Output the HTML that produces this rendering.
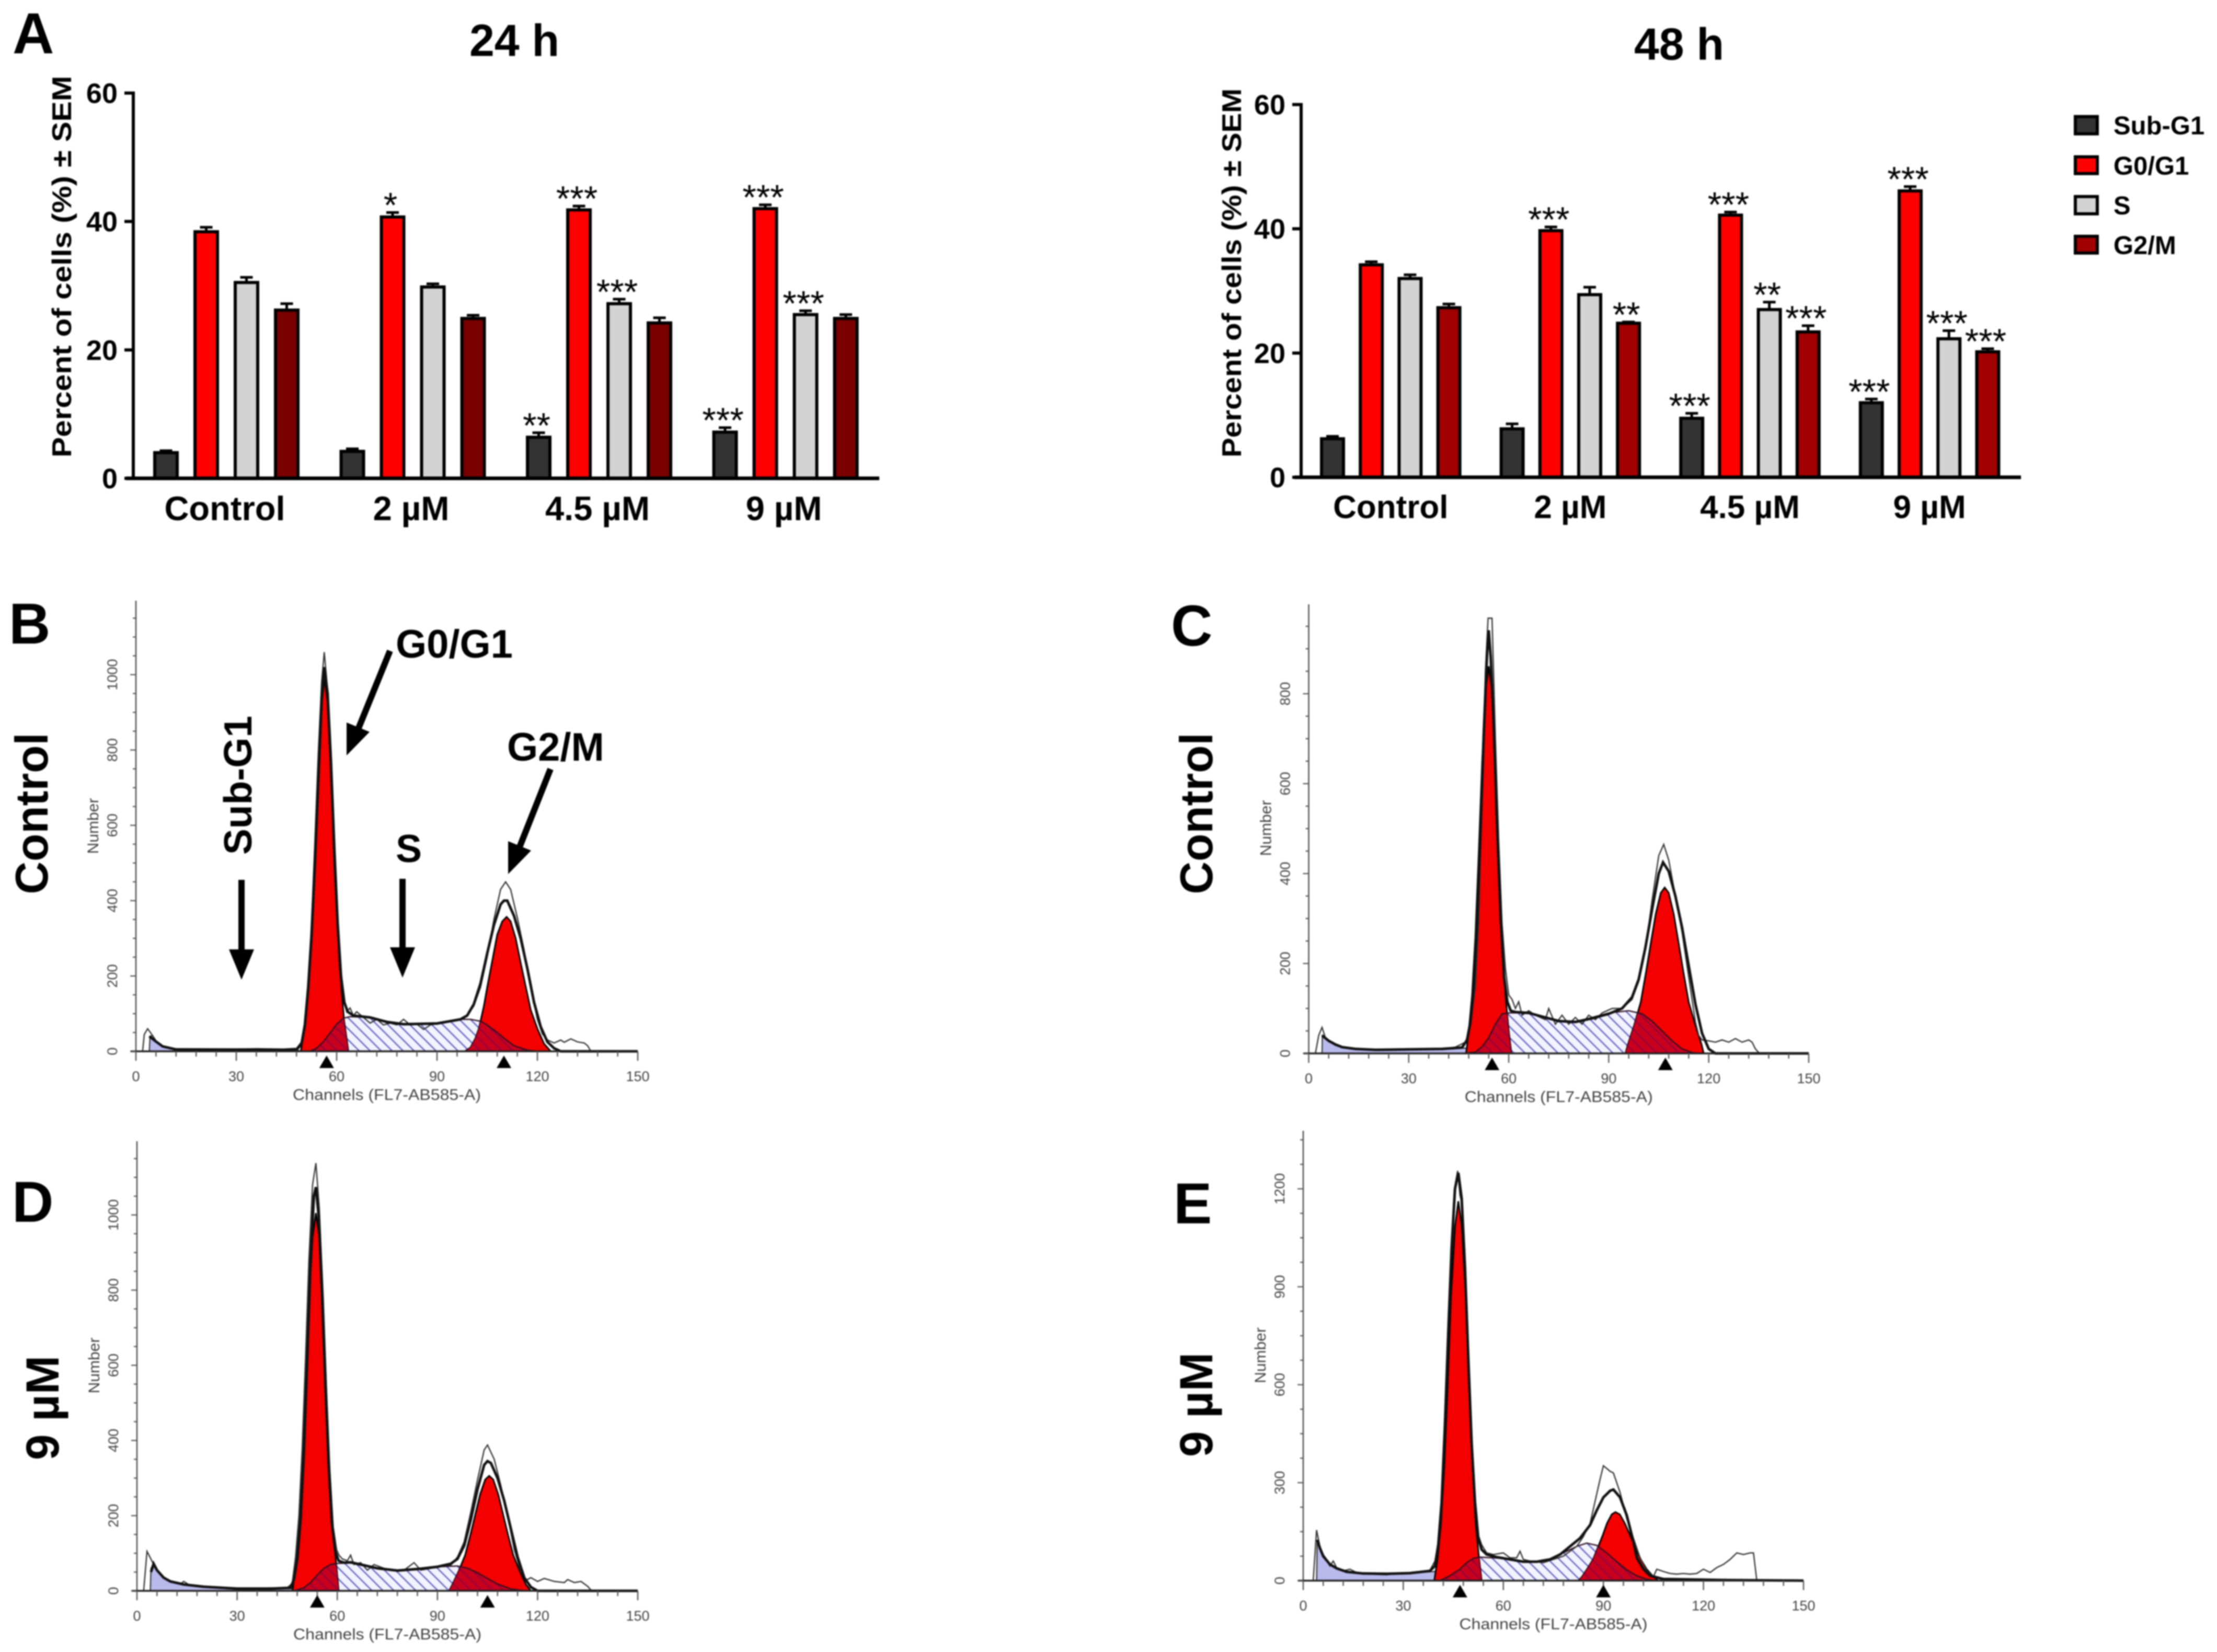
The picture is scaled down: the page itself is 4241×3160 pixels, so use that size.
<!DOCTYPE html>
<html lang="en">
<head>
<meta charset="utf-8">
<title>Cell cycle distribution figure</title>
<style>
html,body{margin:0;padding:0;background:#fff;width:4241px;height:3160px;overflow:hidden}
svg{display:block;filter:blur(1.2px)}
text{font-family:"Liberation Sans",sans-serif}
.b{font-weight:700;fill:#000}
</style>
</head>
<body>
<svg id="fig" xmlns="http://www.w3.org/2000/svg" width="4241" height="3160" viewBox="0 0 4241 3160">
<defs>
<pattern id="hatch" width="21" height="21" patternUnits="userSpaceOnUse">
<path d="M-4,-4L25,25M-4,17L4,25M17,-4L25,4" stroke="#6a6ac4" stroke-width="2.6" fill="none"/>
</pattern>
<pattern id="hatchRed" width="21" height="21" patternUnits="userSpaceOnUse">
<path d="M-4,-4L25,25M-4,17L4,25M17,-4L25,4" stroke="#98003c" stroke-width="2.6" fill="none"/>
</pattern>
</defs>
<rect width="4241" height="3160" fill="#fff"/>

<text class="b" x="24" y="102" font-size="110">A</text>
<text class="b" x="17" y="1231" font-size="110">B</text>
<text class="b" x="2240" y="1235" font-size="110">C</text>
<text class="b" x="23" y="2337" font-size="110">D</text>
<text class="b" x="2245" y="2340" font-size="110">E</text>

<text class="b" x="984" y="107" font-size="86" text-anchor="middle">24 h</text>
<text class="b" x="3212" y="114" font-size="86" text-anchor="middle">48 h</text>

<text class="b" transform="translate(136,510) rotate(-90)" font-size="52" text-anchor="middle" textLength="730" lengthAdjust="spacingAndGlyphs">Percent of cells (%) ± SEM</text>
<text class="b" transform="translate(2374,522) rotate(-90)" font-size="52" text-anchor="middle" textLength="706" lengthAdjust="spacingAndGlyphs">Percent of cells (%) ± SEM</text>

<g>
<rect x="3970" y="223" width="42" height="33" fill="#333" stroke="#000" stroke-width="6"/>
<text class="b" x="4043" y="257" font-size="49">Sub-G1</text>
<rect x="3970" y="300" width="42" height="32" fill="#f00" stroke="#000" stroke-width="6"/>
<text class="b" x="4043" y="334" font-size="49">G0/G1</text>
<rect x="3970" y="376" width="42" height="33" fill="#d3d3d3" stroke="#000" stroke-width="6"/>
<text class="b" x="4043" y="410" font-size="49">S</text>
<rect x="3970" y="452" width="42" height="32" fill="#a00000" stroke="#000" stroke-width="6"/>
<text class="b" x="4043" y="486" font-size="49">G2/M</text>
</g>

<g id="bars24"></g>
<g id="bars48"></g>
<g id="histB"></g>
<g id="histC"></g>
<g id="histD"></g>
<g id="histE"></g>

<text class="b" transform="translate(91,1556) rotate(-90)" font-size="88" text-anchor="middle" textLength="309" lengthAdjust="spacingAndGlyphs">Control</text>
<text class="b" transform="translate(2319,1556) rotate(-90)" font-size="88" text-anchor="middle" textLength="309" lengthAdjust="spacingAndGlyphs">Control</text>
<text class="b" transform="translate(112,2693) rotate(-90)" font-size="89" text-anchor="middle" textLength="200" lengthAdjust="spacingAndGlyphs">9 µM</text>
<text class="b" transform="translate(2319,2687) rotate(-90)" font-size="89" text-anchor="middle" textLength="200" lengthAdjust="spacingAndGlyphs">9 µM</text>

<g>
<text class="b" transform="translate(481,1502) rotate(-90)" font-size="75" text-anchor="middle" textLength="266" lengthAdjust="spacingAndGlyphs">Sub-G1</text>
<text class="b" x="757" y="1258" font-size="76">G0/G1</text>
<text class="b" x="970" y="1455" font-size="76">G2/M</text>
<text class="b" x="757" y="1649" font-size="75">S</text>
<g><line x1="462" y1="1683" x2="462" y2="1830" stroke="#000" stroke-width="12"/><polygon points="438,1816 486,1816 462,1874" fill="#000"/></g>
<g><line x1="770" y1="1681" x2="770" y2="1825" stroke="#000" stroke-width="12"/><polygon points="746,1812 794,1812 770,1870" fill="#000"/></g>
<g><line x1="746" y1="1245" x2="685" y2="1395" stroke="#000" stroke-width="12"/><polygon points="707,1400 663,1382 663,1445" fill="#000"/></g>
<g><line x1="1053" y1="1471" x2="994" y2="1620" stroke="#000" stroke-width="12"/><polygon points="1016,1627 972,1609 972,1672" fill="#000"/></g>
</g>
</svg>

<script>
// ---------- Bar chart data ----------
const categories = ['Control', '2 µM', '4.5 µM', '9 µM'];
const yTicks = [0, 20, 40, 60];

const h24SubG1 = [4.0, 4.2, 6.4, 7.2];
const h24G0G1 = [38.4, 40.7, 41.8, 42.0];
const h24S = [30.5, 29.8, 27.2, 25.5];
const h24G2M = [26.2, 24.9, 24.2, 24.9];
const h24ErrSubG1 = [0.3, 0.4, 0.7, 0.7];
const h24ErrG0G1 = [0.7, 0.7, 0.6, 0.6];
const h24ErrS = [0.8, 0.5, 0.7, 0.6];
const h24ErrG2M = [1.0, 0.5, 0.8, 0.6];
const h24StarsSubG1 = ['', '', '**', '***'];
const h24StarsG0G1 = ['', '*', '***', '***'];
const h24StarsS = ['', '', '***', '***'];
const h24StarsG2M = ['', '', '', ''];

const h48SubG1 = [6.2, 7.8, 9.5, 12.0];
const h48G0G1 = [34.2, 39.7, 42.2, 46.1];
const h48S = [32.0, 29.4, 27.0, 22.3];
const h48G2M = [27.3, 24.8, 23.4, 20.2];
const h48ErrSubG1 = [0.4, 0.8, 0.8, 0.6];
const h48ErrG0G1 = [0.5, 0.6, 0.5, 0.7];
const h48ErrS = [0.6, 1.2, 1.2, 1.3];
const h48ErrG2M = [0.6, 0.2, 1.0, 0.5];
const h48StarsSubG1 = ['', '', '***', '***'];
const h48StarsG0G1 = ['', '***', '***', '***'];
const h48StarsS = ['', '', '**', '***'];
const h48StarsG2M = ['', '**', '***', '***'];

// ---------- Histogram data: [channel, count] ----------
const bSub = [[4,0],[4.2,40],[5,42],[6,28],[8,14],[10,8],[14,5],[30,4],[48,3],[50,0]];
const bG1 = [[49.3,0],[50.6,83],[52,223],[52.9,362],[53.5,495],[54.6,750],[55.6,930],[56.4,990],[57.2,930],[58.2,750],[59.3,495],[60,362],[60.9,223],[62.2,83],[63.5,0]];
const bG2 = [[98.3,0],[100,10],[101.5,35],[102.5,60],[104,120],[105,170],[106.5,240],[108,310],[109.5,345],[110.8,357],[112,345],[113.5,300],[115,235],[116.4,176],[118,110],[120,60],[122,20],[124,0]];
const bS = [[52,0],[54,8],[56,25],[58,48],[60,72],[62,88],[64,92],[70,90],[75,80],[80,73],[90,75],[97,85],[100,85],[103,80],[105,70],[108,50],[110,35],[113,15],[117,3],[120,0]];
const bFit = [[4,40],[6,26],[8,13],[12,5],[48,4],[49.5,20],[50.5,70],[51.5,170],[52.5,310],[53.5,500],[54.5,720],[55.5,930],[56.3,1020],[57.3,950],[58.3,770],[59.3,540],[60.3,340],[61.3,200],[62.3,130],[63.3,105],[65,95],[70,90],[75,78],[80,72],[90,74],[97,85],[99,95],[101,125],[103,180],[105,260],[107,335],[109,390],[110,400],[111,400],[113,360],[115,300],[117,220],[119,130],[121,65],[123,25],[125,8],[127,0],[150,0]];
const bRaw = [[2,0],[2.5,45],[3.5,60],[4.5,48],[6,28],[8,12],[10,8],[14,5],[24,5],[30,6],[36,7],[44,6],[48,8],[49.5,25],[50.5,80],[51.5,180],[52.5,340],[53.5,560],[54.5,790],[55.5,980],[56.3,1060],[57.3,960],[58.3,760],[59.3,520],[60.3,320],[61.3,180],[62.3,130],[63,105],[64,115],[65,95],[66,105],[68,90],[70,75],[72,85],[74,70],[76,75],[78,70],[80,85],[82,70],[84,72],[86,58],[88,70],[91,75],[94,80],[97,85],[99,95],[101,120],[103,170],[105,250],[107,350],[109,430],[110.5,450],[112,430],[114,355],[116,270],[118,170],[120,85],[121.5,46],[123,30],[125,22],[127,30],[128,24],[130,33],[132,25],[134,22],[135,15],[136,0]];
const bMarkers = [57, 110];

const cSub = [[4,0],[4.1,40],[6,28],[8,20],[10,14],[14,10],[20,8],[30,9],[40,10],[46,12],[60,7],[100,5],[120,0]];
const cG1 = [[47.2,0],[48,50],[49,130],[50,260],[51,445],[52,645],[53,805],[54,861],[55,805],[56,645],[57,445],[58,260],[59,130],[60,50],[60.8,0]];
const cG2 = [[95,0],[95.8,21],[97.6,62],[99.6,114],[101.2,181],[102.6,244],[104.1,310],[105.6,357],[106.8,369],[108,357],[109.5,310],[111,244],[112.4,181],[114,114],[116,62],[117.8,21],[118.5,0]];
const cS = [[46,0],[50,3],[52,15],[54,35],[56,65],[58,88],[60,90],[66,90],[70,80],[75,72],[80,70],[85,80],[90,90],[96,95],[100,88],[103,72],[106,50],[109,28],[112,10],[115,2],[117,0]];
const cFit = [[4,40],[6,28],[8,20],[10,14],[14,10],[20,8],[30,9],[40,10],[46,13],[47.5,30],[48.5,70],[49.5,150],[50.5,290],[51.5,490],[52.5,710],[53.5,890],[54,941],[54.6,880],[55.6,710],[56.6,490],[57.6,300],[58.6,170],[59.6,115],[60.6,95],[62,92],[66,90],[70,82],[75,72],[80,70],[85,78],[90,88],[94,100],[97,125],[99,165],[101,235],[103,320],[105,400],[106.3,425],[108,405],[110,350],[112,280],[114,195],[116,110],[118,45],[120,10],[122,0],[150,0]];
const cRaw = [[2,0],[3,40],[4,58],[5,35],[6,28],[8,18],[12,11],[20,8],[30,8],[40,10],[44,14],[47,25],[48.5,60],[50,150],[51,300],[52,600],[53,850],[53.8,968],[55,968],[56,700],[57,470],[58,290],[59,190],[60,130],[61,120],[62,100],[63,115],[64,85],[66,95],[68,85],[71,75],[72,100],[74,65],[76,85],[78,65],[80,80],[82,65],[84,85],[86,75],[88,90],[91,100],[94,100],[97,120],[99,160],[101,230],[103,340],[105,440],[106.5,465],[108,430],[110,350],[112,270],[114,170],[115,120],[116,70],[117,40],[118,30],[120,28],[122,25],[124,30],[126,25],[128,33],[130,25],[132,30],[133,25],[134,10],[135,2],[136,0]];
const cMarkers = [55, 107];

const dSub = [[4,0],[4.2,60],[5,72],[6,58],[8,35],[10,25],[14,17],[20,11],[30,6],[40,5],[46,6],[60,3],[100,2],[118,0]];
const dG1 = [[46.6,0],[47.4,60],[48.4,150],[49.4,300],[50.4,515],[51.4,755],[52.6,940],[53.6,1005],[54.6,940],[55.8,755],[56.8,515],[57.8,300],[58.8,150],[59.8,60],[60.4,0]];
const dG2 = [[93.5,0],[94.5,17],[96.3,51],[98.3,95],[99.9,150],[101.3,202],[102.8,257],[104.3,296],[105.5,306],[106.7,296],[108.2,257],[109.7,202],[111.1,150],[112.7,95],[114.7,51],[116.5,17],[118,0]];
const dS = [[47,0],[50,8],[52,22],[54,42],[56,60],[58,70],[60,73],[64,74],[68,66],[72,60],[78,54],[84,58],[90,64],[96,66],[99,60],[102,48],[105,33],[108,18],[112,5],[116,0]];
const dFit = [[4.2,50],[5,72],[6,55],[8,35],[10,25],[14,17],[20,11],[30,6],[40,6],[46,8],[47,30],[48,85],[49,190],[50,370],[51,620],[52,880],[53,1050],[53.6,1074],[54.4,1000],[55.4,800],[56.4,560],[57.4,340],[58.4,180],[59.4,105],[60.4,80],[62,75],[64,76],[68,68],[72,60],[78,54],[84,58],[90,64],[94,72],[96,85],[98,120],[100,190],[102,270],[104,335],[105,345],[106,340],[108,300],[110,240],[112,165],[114,90],[116,35],[118,10],[120,0],[150,0]];
const dRaw = [[2,0],[3,105],[4,88],[5,70],[6,55],[8,35],[10,25],[13,18],[14,25],[16,14],[20,12],[25,8],[30,6],[36,7],[42,8],[45,8],[46.5,20],[47.5,90],[48.5,200],[49.5,380],[50.5,620],[51.5,880],[52.6,1080],[53.6,1138],[54.6,1020],[55.8,780],[56.8,530],[57.8,320],[58.8,170],[59.8,110],[60.5,95],[61.5,85],[63,80],[64,95],[65,70],[67,75],[69,55],[71,70],[74,60],[77,55],[80,55],[83,75],[85,55],[88,60],[91,65],[94,68],[96,90],[98,130],[100,210],[102,295],[104,375],[105,388],[107,350],[109,280],[111,200],[113,110],[115,50],[116.5,28],[118,35],[120,25],[122,33],[125,25],[128,22],[129,30],[131,22],[133,25],[135,12],[136,2],[137,0]];
const dMarkers = [54, 105];

const eSub = [[4,0],[4.2,125],[5,100],[6,75],[8,50],[10,38],[13,27],[18,22],[25,21],[32,23],[38,27],[42,30],[46,32],[50,22],[56,10],[70,5],[100,2],[105,0]];
const eG1 = [[39.3,0],[40.3,70],[41.3,175],[42.3,350],[43.3,600],[44.3,870],[45.5,1085],[46.5,1162],[47.5,1085],[48.7,870],[49.7,600],[50.7,350],[51.7,175],[52.7,70],[53.5,0]];
const eG2 = [[82.5,0],[83.6,12],[85.1,35],[86.9,65],[88.4,103],[89.8,139],[91.1,176],[92.5,203],[93.6,210],[94.9,203],[96.4,176],[98,139],[99.5,103],[101.2,65],[103,35],[105,12],[106.5,0]];
const eS = [[41,0],[44,15],[47,35],[49,55],[51,68],[53,72],[60,68],[65,60],[70,58],[74,65],[78,85],[82,105],[85,115],[88,108],[91,85],[94,58],[97,33],[100,15],[103,4],[106,0]];
const eFit = [[4.2,125],[5,100],[6,75],[8,50],[10,38],[13,27],[18,22],[25,21],[32,23],[38,30],[39.5,45],[40.5,110],[41.5,240],[42.5,480],[43.5,760],[44.5,1020],[45.5,1200],[46.5,1249],[47.5,1170],[48.5,960],[49.5,680],[50.5,420],[51.5,240],[52.5,130],[53.5,95],[55,80],[58,72],[62,65],[66,58],[70,58],[74,65],[77,80],[80,105],[83,130],[86,170],[88,215],[90,255],[92,275],[93,279],[95,255],[97,200],[99,120],[100,70],[102,35],[104,15],[108,5],[125,2],[150,0]];
const eRaw = [[3,0],[4,155],[5,105],[6,80],[7,65],[8,45],[9,60],[10,40],[12,30],[14,35],[16,25],[20,20],[25,18],[28,22],[32,22],[36,28],[38,32],[39.5,60],[40.5,120],[41.5,260],[42.5,500],[43.5,780],[44.5,1040],[45.5,1210],[46.3,1255],[47,1180],[47.7,1150],[48.5,950],[49.5,700],[50.5,420],[51.5,230],[52.5,140],[53.5,110],[55,85],[57,80],[60,85],[62,70],[64,70],[65,90],[66,65],[68,60],[72,55],[75,65],[78,75],[80,90],[82,105],[84,135],[86,175],[87,220],[88,265],[89,310],[90,352],[92,335],[93,330],[95,270],[97,190],[99,130],[101,70],[103,30],[105,12],[106,35],[108,28],[110,22],[112,20],[114,22],[116,20],[118,22],[120,35],[122,25],[124,40],[126,50],[128,65],[130,85],[132,80],[134,85],[135,85],[136,0]];
const eMarkers = [47, 90];

const channelTicks = [0, 30, 60, 90, 120, 150];
const countTicks1000 = [0, 200, 400, 600, 800, 1000];
const countTicks800 = [0, 200, 400, 600, 800];
const countTicks1200 = [0, 300, 600, 900, 1200];

const NS = 'http://www.w3.org/2000/svg';
function mk(tag, attrs, parent, txt) {
  const node = document.createElementNS(NS, tag);
  for (const k in attrs) node.setAttribute(k, attrs[k]);
  if (txt !== undefined) node.textContent = txt;
  parent.appendChild(node);
  return node;
}

function drawBars(cfg) {
  const root = document.getElementById(cfg.id);
  const yS = v => cfg.y0 - v * (cfg.y0 - cfg.y60) / 60;
  const barX = (g, s) => cfg.left + g * cfg.group + s * cfg.pitch;

  cfg.series.forEach((ser, s) => {
    ser.values.forEach((v, g) => {
      const x = barX(g, s), top = yS(v), eTop = yS(v + ser.err[g]);
      const cx = x + cfg.bw / 2;
      const err = mk('path', {d: 'M' + cx + ',' + top + 'V' + eTop + 'M' + (cx - 12) + ',' + eTop + 'H' + (cx + 12), stroke: '#000', 'stroke-width': 5, fill: 'none'}, root);
      
      
      const bar = mk('rect', {x: x + 3, y: top, width: cfg.bw - 6, height: cfg.y0 - top, fill: ser.color, stroke: '#000', 'stroke-width': 6}, root);
      
      
      if (ser.stars[g]) {
        const st = mk('text', {x: cx - 4, y: eTop + 9, 'font-size': 68, 'text-anchor': 'middle', fill: '#000'}, root, ser.stars[g]);
        
        
      }
    });
  });

  const yAxis = mk('line', {x1: cfg.axisX, x2: cfg.axisX, y1: yS(60) - 3, y2: cfg.y0, stroke: '#000', 'stroke-width': 6}, root);
  
  
  const xAxis = mk('line', {x1: cfg.x1, x2: cfg.x2, y1: cfg.y0, y2: cfg.y0, stroke: '#000', 'stroke-width': 7}, root);
  
  

  yTicks.forEach(t => {
    const tick = mk('line', {x1: cfg.axisX - 17, x2: cfg.axisX, y1: yS(t), y2: yS(t), stroke: '#000', 'stroke-width': 6}, root);
    
    
    const lab = mk('text', {x: cfg.axisX - 30, y: yS(t) + 19, 'font-size': 54, 'font-weight': 700, 'text-anchor': 'end', fill: '#000'}, root, String(t));
    
    
  });

  categories.forEach((c, g) => {
    const cx = barX(g, 0) + (3 * cfg.pitch + cfg.bw) / 2 + cfg.catDx;
    const lab = mk('text', {x: cx, y: cfg.catY, 'font-size': cfg.catSize, 'font-weight': 700, 'text-anchor': 'middle', fill: '#000'}, root, c);
    
    
  });
}

drawBars({
  id: 'bars24', y0: 915, y60: 178, axisX: 255, x1: 241, x2: 1682, left: 293, bw: 49, pitch: 77, group: 356.5, catY: 995, catSize: 65, catDx: -3,
  series: [
    {key: 'sub-g1', color: '#333333', values: h24SubG1, err: h24ErrSubG1, stars: h24StarsSubG1},
    {key: 'g0-g1', color: '#ff0000', values: h24G0G1, err: h24ErrG0G1, stars: h24StarsG0G1},
    {key: 's', color: '#d3d3d3', values: h24S, err: h24ErrS, stars: h24StarsS},
    {key: 'g2-m', color: '#7a0000', values: h24G2M, err: h24ErrG2M, stars: h24StarsG2M}
  ]
});
drawBars({
  id: 'bars48', y0: 913, y60: 200, axisX: 2489, x1: 2476, x2: 3866, left: 2525, bw: 48, pitch: 74.2, group: 343.6, catY: 991, catSize: 62, catDx: 0,
  series: [
    {key: 'sub-g1', color: '#333333', values: h48SubG1, err: h48ErrSubG1, stars: h48StarsSubG1},
    {key: 'g0-g1', color: '#ff0000', values: h48G0G1, err: h48ErrG0G1, stars: h48StarsG0G1},
    {key: 's', color: '#d3d3d3', values: h48S, err: h48ErrS, stars: h48StarsS},
    {key: 'g2-m', color: '#a00000', values: h48G2M, err: h48ErrG2M, stars: h48StarsG2M}
  ]
});

function drawHist(cfg) {
  const root = document.getElementById(cfg.id);
  const xS = c => cfg.x0 + c * (cfg.x150 - cfg.x0) / 150;
  const yS = n => cfg.y0 - n * (cfg.y0 - cfg.yRefPx) / cfg.yRef;
  const pts = arr => arr.map(p => xS(p[0]).toFixed(1) + ',' + yS(p[1]).toFixed(1)).join(' ');
  const area = arr => xS(arr[0][0]).toFixed(1) + ',' + cfg.y0 + ' ' + pts(arr) + ' ' + xS(arr[arr.length - 1][0]).toFixed(1) + ',' + cfg.y0;

  const sub = mk('polygon', {points: area(cfg.sub), fill: '#b9b9ec', stroke: '#222', 'stroke-width': 2}, root);
  
  

  const sBack = mk('polygon', {points: area(cfg.s), fill: '#f3f3ff'}, root);
  
  
  const hatch = mk('polygon', {points: area(cfg.s), fill: 'url(#hatch)'}, root);
  
  

  const g1 = mk('polygon', {points: area(cfg.g1), fill: '#f40000', stroke: '#000', 'stroke-width': 3}, root);
  
  
  const g2 = mk('polygon', {points: area(cfg.g2), fill: '#f40000', stroke: '#000', 'stroke-width': 3}, root);
  
  

  const clip = mk('clipPath', {id: cfg.id + '-clip'}, root);
  mk('polygon', {points: area(cfg.g1)}, clip);
  mk('polygon', {points: area(cfg.g2)}, clip);
  const overlap = mk('polygon', {points: area(cfg.s), fill: '#c8001e', 'clip-path': 'url(#' + cfg.id + '-clip)'}, root);
  
  
  const overlapHatch = mk('polygon', {points: area(cfg.s), fill: 'url(#hatchRed)', 'clip-path': 'url(#' + cfg.id + '-clip)'}, root);
  
  
  const sOutline = mk('polyline', {points: pts(cfg.s), fill: 'none', stroke: '#301020', 'stroke-width': 2.4}, root);
  
  

  const raw = mk('polyline', {points: pts(cfg.raw), fill: 'none', stroke: '#333', 'stroke-width': 2.4}, root);
  
  
  const fit = mk('polyline', {points: pts(cfg.fit), fill: 'none', stroke: '#111', 'stroke-width': 5}, root);
  
  

  const yAxis = mk('line', {x1: cfg.x0, x2: cfg.x0, y1: cfg.top, y2: cfg.y0, stroke: '#555', 'stroke-width': 2.6}, root);
  
  
  const xAxis = mk('line', {x1: cfg.x0 - 10, x2: cfg.x150, y1: cfg.y0, y2: cfg.y0, stroke: '#222', 'stroke-width': 3.5}, root);
  
  

  for (let c = 0; c <= 150; c += 6) {
    const major = c % 30 === 0;
    const t = mk('line', {x1: xS(c), x2: xS(c), y1: cfg.y0, y2: cfg.y0 + (major ? 18 : 10), stroke: '#555', 'stroke-width': 2.4}, root);
    
    
  }
  channelTicks.forEach(c => {
    const l = mk('text', {x: xS(c), y: cfg.y0 + 57, 'font-size': 27, 'text-anchor': 'middle', fill: '#444'}, root, String(c));
    
    
  });
  for (let n = 0; yS(n) >= cfg.top; n += cfg.minor) {
    const major = n % cfg.major === 0;
    const t = mk('line', {x1: cfg.x0 - (major ? 11 : 6), x2: cfg.x0, y1: yS(n), y2: yS(n), stroke: '#555', 'stroke-width': 2.2}, root);
    
    
  }
  cfg.ticks.forEach(n => {
    const lx = cfg.x0 - 36;
    const l = mk('text', {transform: 'translate(' + lx + ',' + yS(n) + ') rotate(-90)', 'font-size': 27, 'text-anchor': 'middle', fill: '#444'}, root, String(n));
    
    
  });
  cfg.markers.forEach(c => {
    const cx = xS(c), ty = cfg.y0 + 8;
    const m = mk('polygon', {points: cx + ',' + ty + ' ' + (cx - 14) + ',' + (ty + 24) + ' ' + (cx + 14) + ',' + (ty + 24), fill: '#000'}, root);
    
    
  });
  const xt = mk('text', {x: (cfg.x0 + cfg.x150) / 2, y: cfg.y0 + 93, 'font-size': 30, 'text-anchor': 'middle', textLength: 360, lengthAdjust: 'spacingAndGlyphs', fill: '#444'}, root, 'Channels (FL7-AB585-A)');
  
  
  const yt = mk('text', {transform: 'translate(' + (cfg.x0 - 72) + ',' + (cfg.y0 - 431) + ') rotate(-90)', 'font-size': 30, 'text-anchor': 'middle', fill: '#444'}, root, 'Number');
  
  
}

drawHist({id: 'histB', x0: 260, x150: 1220, y0: 2011, yRef: 1000, yRefPx: 1290.5, top: 1149, major: 200, minor: 50, ticks: countTicks1000, sub: bSub, g1: bG1, g2: bG2, s: bS, fit: bFit, raw: bRaw, markers: bMarkers});
drawHist({id: 'histC', x0: 2503.5, x150: 3460, y0: 2015, yRef: 800, yRefPx: 1327, top: 1156, major: 200, minor: 50, ticks: countTicks800, sub: cSub, g1: cG1, g2: cG2, s: cS, fit: cFit, raw: cRaw, markers: cMarkers});
drawHist({id: 'histD', x0: 262, x150: 1220, y0: 3043, yRef: 1000, yRefPx: 2324, top: 2183, major: 200, minor: 50, ticks: countTicks1000, sub: dSub, g1: dG1, g2: dG2, s: dS, fit: dFit, raw: dRaw, markers: dMarkers});
drawHist({id: 'histE', x0: 2493, x150: 3450, y0: 3023.5, yRef: 1200, yRefPx: 2274, top: 2163, major: 300, minor: 75, ticks: countTicks1200, sub: eSub, g1: eG1, g2: eG2, s: eS, fit: eFit, raw: eRaw, markers: eMarkers});
</script>
</body>
</html>
